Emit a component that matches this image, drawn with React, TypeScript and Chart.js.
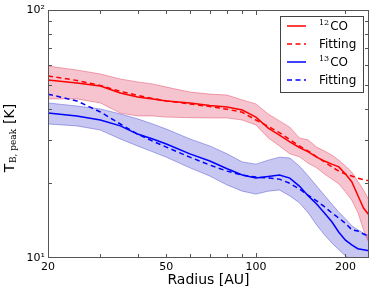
import React, { useEffect, useRef } from "react";
import { Chart, registerables } from "chart.js";

Chart.register(...registerables);

// Radius samples [AU]
const radiusAU = [20, 25, 30, 35, 40, 45, 50, 60, 70, 80, 90, 100, 110, 120, 130, 140, 150, 160, 170, 180, 190, 200, 210, 220, 230, 240];

// 12CO peak brightness temperature [K]
const co12Peak = [52.2, 50.8, 49.4, 46.3, 44.6, 43.8, 43.0, 42.2, 41.2, 40.6, 39.5, 37.0, 33.4, 31.3, 29.4, 27.9, 26.8, 25.5, 24.6, 23.9, 23.3, 21.8, 20.3, 17.9, 15.9, 14.9];
const co12Fit = [54.2, 52.0, 49.6, 47.0, 45.3, 44.0, 43.0, 41.8, 40.8, 39.8, 38.7, 36.0, 34.0, 32.0, 30.0, 28.3, 27.0, 25.6, 24.4, 23.3, 22.4, 21.8, 21.4, 21.0, 20.7, 20.5];
const co12Upper = [59.4, 57.3, 55.2, 52.7, 51.3, 50.3, 48.9, 46.7, 45.8, 45.4, 43.4, 41.8, 38.1, 35.7, 33.7, 30.5, 29.9, 28.0, 27.0, 26.0, 24.8, 23.5, 22.2, 20.4, 18.8, 17.1];
const co12Lower = [43.8, 43.8, 42.2, 38.4, 37.4, 37.4, 37.0, 36.8, 36.7, 36.7, 36.0, 34.4, 30.5, 28.3, 26.3, 25.6, 24.1, 23.1, 21.8, 20.8, 19.9, 18.5, 17.1, 15.3, 13.0, 11.5];

// 13CO peak brightness temperature [K]
const co13Peak = [38.4, 37.4, 36.0, 34.1, 31.6, 30.2, 28.8, 26.3, 24.6, 22.9, 21.6, 21.0, 21.3, 21.6, 21.0, 19.5, 17.8, 16.5, 15.2, 14.0, 12.7, 11.8, 11.3, 10.9, 10.8, 10.7];
const co13Fit = [45.8, 43.0, 38.8, 34.7, 31.6, 29.6, 28.0, 25.5, 23.7, 22.4, 21.6, 21.2, 21.0, 20.8, 20.0, 19.0, 17.9, 17.0, 16.1, 15.2, 14.5, 13.8, 13.0, 12.85, 12.5, 12.2];
const co13Upper = [42.2, 41.0, 39.9, 38.1, 36.4, 34.7, 33.1, 30.2, 28.3, 26.3, 24.4, 23.9, 24.8, 25.5, 25.3, 23.5, 21.4, 19.5, 17.9, 16.5, 15.3, 14.4, 13.5, 13.0, 12.6, 12.3];
const co13Lower = [34.7, 34.1, 32.8, 30.2, 28.3, 26.8, 25.5, 23.1, 21.4, 19.7, 18.6, 18.1, 18.6, 18.8, 17.8, 16.7, 15.2, 13.6, 12.4, 11.5, 10.8, 10.2, 9.8, 9.5, 9.3, 9.2];

// Axis ticks
const xTickLabels = [20, 50, 100, 200];
const yTickLabels = [10, 100];
const xMajorTicks = [100];
const xMinorTicks = [30, 40, 50, 60, 70, 80, 90, 200];
const yMinorTicks = [20, 30, 40, 50, 60, 70, 80, 90];

// Legend
const legendSup = ["12", "", "13", ""];
const legendText = ["CO", "Fitting", "CO", "Fitting"];
const legendColors = ["#ff0000", "#ff0000", "#0000ff", "#0000ff"];
const legendDashed = [false, true, false, true];

const RED = "#ff0000";
const BLUE = "#0000ff";
const DASH = [5, 3.5];
const SANS = "'DejaVu Sans', sans-serif";
const SERIF = "'DejaVu Serif', serif";

const pts = (ys: number[]) => radiusAU.map((r, i) => ({ x: r, y: ys[i] }));

const decor = {
  id: "decor",
  afterDraw(chart: any) {
    const { ctx, chartArea: a, scales } = chart;
    const xs = scales.x;
    const ys = scales.y;
    ctx.save();

    // frame
    ctx.strokeStyle = "#555";
    ctx.lineWidth = 1;
    ctx.strokeRect(a.left + 0.5, a.top + 0.5, a.right - a.left - 1, a.bottom - a.top - 1);

    // ticks (inward, all four sides)
    ctx.beginPath();
    const xt = (v: number, len: number) => {
      const p = Math.round(xs.getPixelForValue(v)) + 0.5;
      ctx.moveTo(p, a.bottom);
      ctx.lineTo(p, a.bottom - len);
      ctx.moveTo(p, a.top);
      ctx.lineTo(p, a.top + len);
    };
    const yt = (v: number, len: number) => {
      const p = Math.round(ys.getPixelForValue(v)) + 0.5;
      ctx.moveTo(a.left, p);
      ctx.lineTo(a.left + len, p);
      ctx.moveTo(a.right, p);
      ctx.lineTo(a.right - len, p);
    };
    xMajorTicks.forEach((v) => xt(v, 5));
    xMinorTicks.forEach((v) => xt(v, 4));
    yMinorTicks.forEach((v) => yt(v, 4));
    ctx.stroke();

    // legend
    const bx = a.right - 89;
    const by = a.top + 6;
    const bw = 83;
    const bh = 76;
    ctx.fillStyle = "#fff";
    ctx.fillRect(bx, by, bw, bh);
    ctx.strokeStyle = "#444";
    ctx.lineWidth = 1;
    ctx.strokeRect(bx + 0.5, by + 0.5, bw, bh);
    for (let i = 0; i < legendText.length; i++) {
      const ry = by + 10 + i * 18;
      ctx.beginPath();
      ctx.strokeStyle = legendColors[i];
      ctx.lineWidth = 1.5;
      ctx.setLineDash(legendDashed[i] ? DASH : []);
      ctx.moveTo(bx + 7, ry);
      ctx.lineTo(bx + 26, ry);
      ctx.stroke();
      ctx.setLineDash([]);
      ctx.fillStyle = "#000";
      ctx.textBaseline = "middle";
      ctx.textAlign = "left";
      let tx = bx + 39;
      if (legendSup[i]) {
        ctx.font = `8px ${SERIF}`;
        ctx.fillText(legendSup[i], tx, ry - 3);
        tx += ctx.measureText(legendSup[i]).width + 1;
      }
      ctx.font = `12px ${SANS}`;
      ctx.fillText(legendText[i], tx, ry + 0.5);
    }

    // x title
    ctx.fillStyle = "#000";
    ctx.font = `14px ${SANS}`;
    ctx.textAlign = "center";
    ctx.textBaseline = "middle";
    ctx.fillText("Radius [AU]", (a.left + a.right) / 2, 280);

    // y title (rotated), T with serif subscript
    ctx.translate(10, 138);
    ctx.rotate(-Math.PI / 2);
    ctx.textAlign = "left";
    ctx.textBaseline = "middle";
    ctx.font = `14px ${SANS}`;
    const wT = ctx.measureText("T").width;
    const wK = ctx.measureText(" [K]").width;
    ctx.font = `9px ${SERIF}`;
    const wS = ctx.measureText("B, peak").width;
    const total = wT + wS + 1 + wK;
    let x0 = -total / 2;
    ctx.font = `14px ${SANS}`;
    ctx.fillText("T", x0, 0);
    x0 += wT + 0.5;
    ctx.font = `9px ${SERIF}`;
    ctx.fillText("B, peak", x0, 4);
    x0 += wS + 0.5;
    ctx.font = `14px ${SANS}`;
    ctx.fillText(" [K]", x0, 0);

    ctx.restore();
  },
};

export default function App() {
  const ref = useRef<HTMLCanvasElement | null>(null);

  useEffect(() => {
    document.body.style.margin = "0";
    const canvas = ref.current;
    if (!canvas) return;
    const band = (ys: number[], color: string, fill: any) => ({
      data: pts(ys),
      borderColor: color.replace(/0\.25\)$/, "0.35)"),
      backgroundColor: color,
      borderWidth: 1,
      pointRadius: 0,
      fill,
      clip: 0,
    });
    const line = (ys: number[], color: string, dashed: boolean) => ({
      data: pts(ys),
      borderColor: color,
      borderWidth: 1.5,
      borderDash: dashed ? DASH : [],
      pointRadius: 0,
      fill: false,
    });
    const chart = new Chart(canvas, {
      type: "line",
      data: {
        datasets: [
          line(co12Fit, RED, true),
          line(co12Peak, RED, false),
          line(co13Fit, BLUE, true),
          line(co13Peak, BLUE, false),
          band(co12Upper, "rgba(220,20,60,0.25)", "+1"),
          band(co12Lower, "rgba(220,20,60,0.25)", false),
          band(co13Upper, "rgba(30,30,200,0.25)", "+1"),
          band(co13Lower, "rgba(30,30,200,0.25)", false),
        ] as any,
      },
      options: {
        responsive: false,
        animation: false,
        events: [],
        layout: { padding: { top: 10, right: 5, left: 0, bottom: 0 } },
        plugins: {
          legend: { display: false },
          tooltip: { enabled: false },
          filler: { drawTime: "beforeDatasetsDraw" } as any,
        },
        scales: {
          x: {
            type: "logarithmic",
            min: 20,
            max: 240,
            grid: { display: false, drawTicks: false },
            border: { display: false },
            afterBuildTicks: (s: any) => {
              s.ticks = xTickLabels.map((v) => ({ value: v }));
            },
            afterFit: (s: any) => {
              s.height = 37;
            },
            ticks: {
              autoSkip: false,
              maxRotation: 0,
              padding: 3,
              color: "#000",
              font: { family: SANS, size: 11 },
              callback: (v: any) => String(v),
            },
          },
          y: {
            type: "logarithmic",
            min: 10,
            max: 100,
            grid: { display: false, drawTicks: false },
            border: { display: false },
            afterBuildTicks: (s: any) => {
              s.ticks = yTickLabels.map((v) => ({ value: v }));
            },
            afterFit: (s: any) => {
              s.width = 48;
            },
            ticks: {
              autoSkip: false,
              padding: 3,
              color: "#000",
              font: { family: SANS, size: 11 },
              callback: (v: any) => (Number(v) >= 100 ? "10²" : "10¹"),
            },
          },
        },
      } as any,
      plugins: [decor],
    });
    return () => chart.destroy();
  }, []);

  return (
    <div style={{ width: 374, height: 295 }}>
      <canvas ref={ref} width={374} height={295} style={{ display: "block" }} />
    </div>
  );
}
